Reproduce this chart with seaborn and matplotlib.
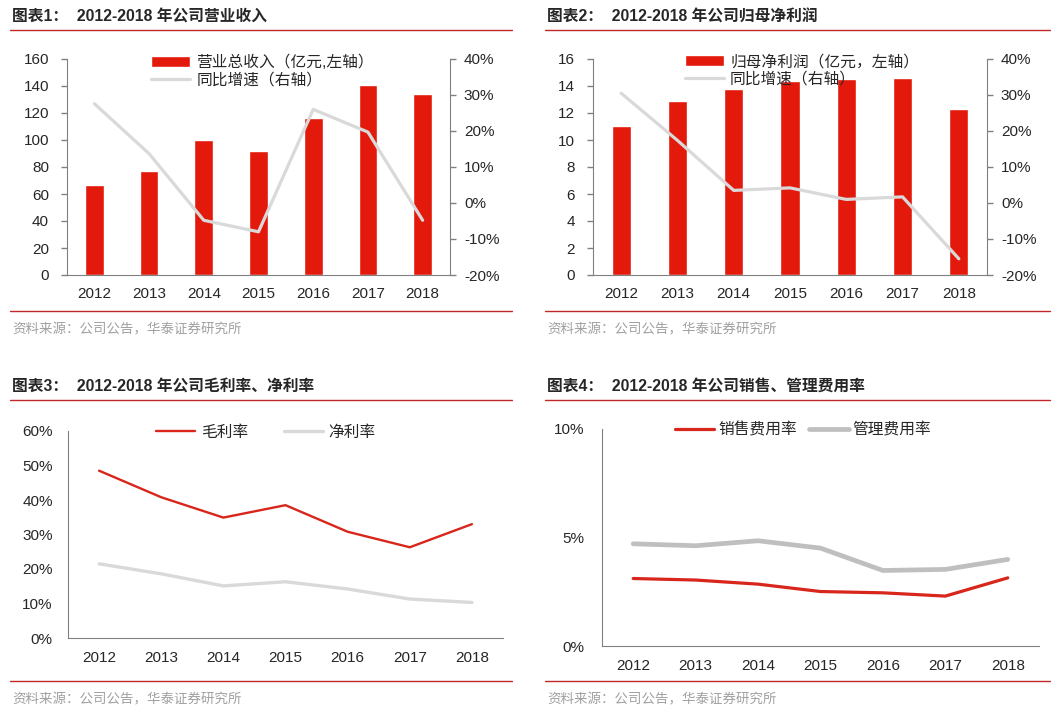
import numpy as np
import pandas as pd
import matplotlib
matplotlib.use("Agg")
import matplotlib.pyplot as plt
from matplotlib.lines import Line2D
from matplotlib.ticker import FuncFormatter, MultipleLocator
import seaborn as sns

# data
years = ["2012", "2013", "2014", "2015", "2016", "2017", "2018"]
revenue = [67, 77, 100, 92, 116, 141, 134]
revenue_yoy = [0.276, 0.137, -0.048, -0.08, 0.26, 0.197, -0.048]
profit = [11.0, 12.9, 13.8, 14.4, 14.5, 14.6, 12.3]
profit_yoy = [0.305, 0.174, 0.035, 0.042, 0.01, 0.017, -0.155]
gross_margin = [0.485, 0.408, 0.349, 0.385, 0.308, 0.263, 0.33]
net_margin = [0.215, 0.186, 0.151, 0.163, 0.142, 0.113, 0.103]
sales_rate = [0.0311, 0.0304, 0.0285, 0.0251, 0.0245, 0.0230, 0.0314]
admin_rate = [0.0471, 0.0462, 0.0485, 0.0451, 0.0348, 0.0353, 0.0399]

titles = ["图表1：  2012-2018 年公司营业收入", "图表2：  2012-2018 年公司归母净利润",
          "图表3：  2012-2018 年公司毛利率、净利率", "图表4：  2012-2018 年公司销售、管理费用率"]
source = "资料来源：公司公告，华泰证券研究所"

RED = "#E3190B"
LINE_RED = "#D9261C"
LGRAY = "#D9D9D9"
MGRAY = "#BFBFBF"
SPINE = "#808080"
SEP = "#C0282A"

sns.set_style("white")
plt.rcParams["font.family"] = ["Liberation Sans", "Noto Sans CJK SC", "DejaVu Sans"]

W, H = 1060, 719
fig = plt.figure(figsize=(W / 100, H / 100), dpi=100)


def rect(l, t, r, b):
    return [l / W, 1 - b / H, (r - l) / W, (b - t) / H]


pct = FuncFormatter(lambda v, p: f"{v * 100:.0f}%")
n = len(years)


def style_x(ax):
    ax.set_xlim(-0.5, n - 0.5)
    ax.set_xticks(np.arange(-0.5, n, 1), labels=[""] * (n + 1))
    ax.set_xticks(np.arange(n), labels=years, minor=True)
    ax.tick_params(axis="x", which="major", direction="out", length=4, color=SPINE, width=1)
    ax.tick_params(axis="x", which="minor", length=0, labelsize=11, pad=9)
    ax.set_xlabel("")


def style_y(ax, pad=7):
    ax.tick_params(axis="y", direction="out", length=4, color=SPINE, width=1,
                   labelsize=11, pad=pad)
    ax.set_ylabel("")


def frame(ax, right=False):
    for s in ["top", "right", "left", "bottom"]:
        ax.spines[s].set_visible(False)
    ax.spines["bottom"].set_visible(True)
    ax.spines["bottom"].set_color(SPINE)
    if right:
        ax.spines["right"].set_visible(True)
        ax.spines["right"].set_color(SPINE)
    else:
        ax.spines["left"].set_visible(True)
        ax.spines["left"].set_color(SPINE)


def decorate(x0, x1, title_y, line_y, bot_y, src_y, title):
    fig.text(x0 / W + 0.002, 1 - title_y / H, title, fontsize=11.3, fontweight="bold",
             va="center", ha="left")
    for y in (line_y, bot_y):
        fig.add_artist(Line2D([x0 / W, x1 / W], [1 - y / H, 1 - y / H], color=SEP, lw=1))
    fig.text(x0 / W + 0.002, 1 - src_y / H, source, fontsize=9.7, color="#A0A0A0",
             va="center", ha="left", family=["Noto Sans CJK SC"])


decorate(10, 512, 17, 30, 311, 329, titles[0])
decorate(545, 1050, 17, 30, 311, 329, titles[1])
decorate(10, 512, 387, 400, 681, 699, titles[2])
decorate(545, 1050, 387, 400, 681, 699, titles[3])

# chart 1 / chart 2: bars + yoy line
for (l, r), bars, yoy, bar_label, ymax, step, lcx in [
        ((67, 450), revenue, revenue_yoy, "营业总收入（亿元,左轴）", 160, 20, 0.51),
        ((593, 987), profit, profit_yoy, "归母净利润（亿元，左轴）", 16, 2, 0.53)]:
    ax = fig.add_axes(rect(l, 59, r, 275))
    sns.barplot(x=years, y=bars, color=RED, saturation=1, width=0.34, ax=ax,
                label=bar_label)
    ax.set_ylim(0, ymax)
    ax.yaxis.set_major_locator(MultipleLocator(step))
    ax2 = ax.twinx()
    sns.lineplot(x=years, y=yoy, color=LGRAY, linewidth=2.3, ax=ax2, label="同比增速（右轴）")
    ax2.set_ylim(-0.2, 0.4)
    ax2.yaxis.set_major_locator(MultipleLocator(0.1))
    ax2.yaxis.set_major_formatter(pct)
    for a in (ax, ax2):
        if a.get_legend():
            a.get_legend().remove()
    style_x(ax)
    style_y(ax, pad=9)
    style_y(ax2, pad=6)
    frame(ax)
    frame(ax2, right=True)
    ax2.spines["bottom"].set_visible(False)
    h1, l1 = ax.get_legend_handles_labels()
    h2, l2 = ax2.get_legend_handles_labels()
    ax2.legend(h1 + h2, l1 + l2, loc="upper center", bbox_to_anchor=(lcx, 1.05),
               frameon=False, fontsize=11.3, handlelength=2.5, labelspacing=0.15,
               handletextpad=0.4, borderaxespad=0)

# chart 3: margins
ax = fig.add_axes(rect(68, 431, 503, 638))
sns.lineplot(x=years, y=gross_margin, color=LINE_RED, linewidth=1.7, ax=ax, label="毛利率")
sns.lineplot(x=years, y=net_margin, color=LGRAY, linewidth=2.4, ax=ax, label="净利率")
ax.set_ylim(0, 0.6)
ax.yaxis.set_major_locator(MultipleLocator(0.1))
ax.yaxis.set_major_formatter(pct)
style_x(ax)
style_y(ax)
frame(ax)
ax.legend(loc="upper center", bbox_to_anchor=(0.455, 1.06), ncol=2, frameon=False,
          fontsize=11.3, handlelength=2.5, columnspacing=2.3, handletextpad=0.35,
          borderaxespad=0)

# chart 4: expense ratios
ax = fig.add_axes(rect(602, 429, 1039, 646))
sns.lineplot(x=years, y=sales_rate, color=LINE_RED, linewidth=2.3, ax=ax, label="销售费用率")
sns.lineplot(x=years, y=admin_rate, color=MGRAY, linewidth=3.4, ax=ax, label="管理费用率")
ax.set_ylim(0, 0.1)
ax.yaxis.set_major_locator(MultipleLocator(0.05))
ax.yaxis.set_major_formatter(pct)
style_x(ax)
style_y(ax, pad=9)
frame(ax)
ax.legend(loc="upper center", bbox_to_anchor=(0.46, 1.06), ncol=2, frameon=False,
          fontsize=11.3, handlelength=2.5, columnspacing=0.8, handletextpad=0.25,
          borderaxespad=0)

fig.savefig("out.png", dpi=100)
